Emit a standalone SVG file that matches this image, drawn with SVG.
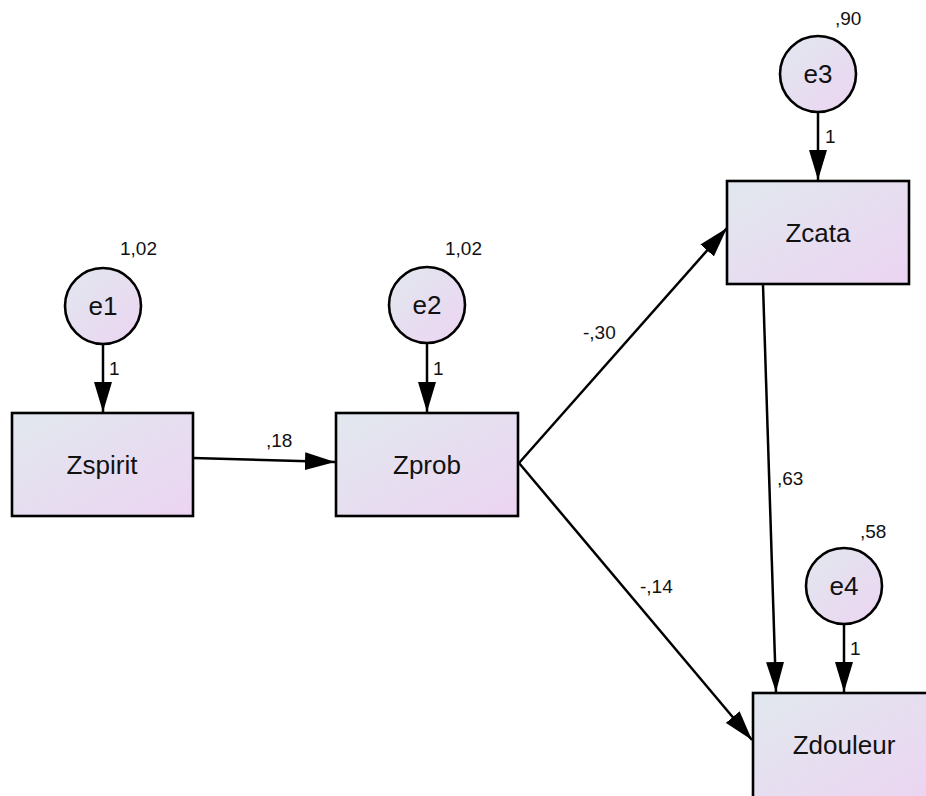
<svg xmlns="http://www.w3.org/2000/svg" width="926" height="796" viewBox="0 0 926 796">
<defs>
<linearGradient id="g" x1="0" y1="0" x2="1" y2="1">
<stop offset="0" stop-color="#e1e8ee"/>
<stop offset="1" stop-color="#ecd4f2"/>
</linearGradient>
<marker id="a" markerWidth="30" markerHeight="18" refX="30" refY="9" orient="auto" markerUnits="userSpaceOnUse">
<path d="M0,0 L30,9 L0,18 Z" fill="#000"/>
</marker>
<style>
.n{fill:url(#g);stroke:#000;stroke-width:2.6}
.t{font-family:"Liberation Sans",Arial,sans-serif;font-size:26px;fill:#111;text-anchor:middle}
.l{font-family:"Liberation Sans",Arial,sans-serif;font-size:19px;fill:#111}
.c{stroke:#000;stroke-width:2.5;fill:none;marker-end:url(#a)}
</style>
</defs>
<rect width="926" height="796" fill="#fff"/>
<g id="connectors">
<line class="c" x1="103" y1="344" x2="103" y2="412"/>
<line class="c" x1="427" y1="343" x2="427" y2="412"/>
<line class="c" x1="818" y1="113" x2="818" y2="180"/>
<line class="c" x1="844" y1="624" x2="844" y2="692"/>
<line class="c" x1="193" y1="458" x2="335" y2="462"/>
<line class="c" x1="519" y1="463" x2="727" y2="228"/>
<line class="c" x1="519" y1="463" x2="752" y2="740"/>
<line class="c" x1="763" y1="285" x2="776" y2="692"/>
<text class="l" x="109" y="375">1</text>
<text class="l" x="433" y="375">1</text>
<text class="l" x="825" y="143">1</text>
<text class="l" x="850" y="655">1</text>
<text class="l" x="266" y="447">,18</text>
<text class="l" x="583" y="339">-,30</text>
<text class="l" x="640" y="593">-,14</text>
<text class="l" x="777" y="485">,63</text>
</g>
<g id="e1"><circle class="n" cx="103" cy="306" r="38"/><text class="t" x="103" y="315">e1</text><text class="l" x="120" y="255">1,02</text></g>
<g id="e2"><circle class="n" cx="427" cy="305" r="38"/><text class="t" x="427" y="314">e2</text><text class="l" x="445" y="255">1,02</text></g>
<g id="e3"><circle class="n" cx="818" cy="74" r="38"/><text class="t" x="818" y="83">e3</text><text class="l" x="835" y="25">,90</text></g>
<g id="e4"><circle class="n" cx="844" cy="586" r="38"/><text class="t" x="844" y="595">e4</text><text class="l" x="860" y="538">,58</text></g>
<g id="Zspirit"><rect class="n" x="12" y="413" width="181" height="103"/><text class="t" x="102" y="474">Zspirit</text></g>
<g id="Zprob"><rect class="n" x="336" y="413" width="182" height="103"/><text class="t" x="427" y="474">Zprob</text></g>
<g id="Zcata"><rect class="n" x="727" y="181" width="182" height="103"/><text class="t" x="818" y="242">Zcata</text></g>
<g id="Zdouleur"><rect class="n" x="753" y="693" width="182" height="110"/><text class="t" x="844" y="754">Zdouleur</text></g>
</svg>
